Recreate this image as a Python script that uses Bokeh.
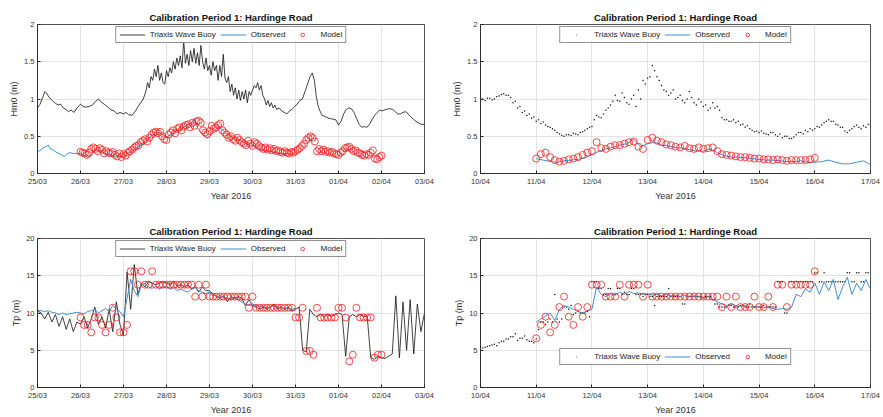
import pandas as pd
from bokeh.plotting import figure
from bokeh.layouts import column, row
from bokeh.models import (Range1d, DatetimeTickFormatter, DaysTicker, FixedTicker,
                          Legend, LegendItem)
from bokeh.embed import file_html
from bokeh.resources import INLINE

TITLE = "Calibration Period 1: Hardinge Road"
XLABEL = "Year 2016"
START_A, END_A = "2016-03-25", "2016-04-03"
START_B, END_B = "2016-04-10", "2016-04-17"
HM0_TICKS = [0, 0.5, 1, 1.5, 2]
HM0_TICK_LABELS = ["0", "0.5", "1", "1.5", "2"]
TP_TICKS = [0, 5, 10, 15, 20]

# ---------- Period A (25/03 - 03/04), Hm0 ----------
# (day offset from 25/03, value)
hm0_a_buoy = [
    (0.00, 0.88), (0.06, 0.93), (0.12, 1.02), (0.17, 1.10), (0.21, 1.08), (0.25, 1.04), (0.30, 1.00),
    (0.36, 0.97), (0.42, 0.94), (0.48, 0.92), (0.54, 0.93), (0.60, 0.88), (0.66, 0.86), (0.72, 0.83),
    (0.78, 0.85), (0.85, 0.82), (0.92, 0.88), (1.00, 0.93), (1.06, 0.90), (1.12, 0.89), (1.20, 0.90),
    (1.28, 0.92), (1.35, 0.97), (1.42, 1.00), (1.48, 0.96), (1.55, 0.93), (1.62, 0.90), (1.70, 0.86),
    (1.78, 0.84), (1.85, 0.80), (1.92, 0.82), (2.00, 0.80), (2.06, 0.82), (2.12, 0.79), (2.20, 0.78),
    (2.28, 0.84), (2.34, 0.90), (2.40, 0.95), (2.46, 1.00), (2.52, 1.10), (2.56, 1.22), (2.60, 1.15),
    (2.64, 1.30), (2.68, 1.25), (2.72, 1.40), (2.76, 1.30), (2.80, 1.45), (2.84, 1.25), (2.88, 1.35),
    (2.92, 1.22), (2.96, 1.20), (3.00, 1.38), (3.04, 1.30), (3.08, 1.42), (3.12, 1.35), (3.16, 1.50),
    (3.20, 1.40), (3.24, 1.55), (3.28, 1.45), (3.32, 1.58), (3.36, 1.42), (3.40, 1.78), (3.44, 1.48),
    (3.48, 1.60), (3.52, 1.45), (3.56, 1.65), (3.60, 1.50), (3.64, 1.68), (3.68, 1.48), (3.72, 1.62),
    (3.76, 1.45), (3.80, 1.72), (3.84, 1.50), (3.88, 1.40), (3.92, 1.55), (3.96, 1.38), (4.00, 1.45),
    (4.04, 1.32), (4.08, 1.50), (4.12, 1.38), (4.16, 1.45), (4.20, 1.25), (4.24, 1.45), (4.28, 1.30),
    (4.32, 1.60), (4.36, 1.28), (4.40, 1.22), (4.44, 1.30), (4.48, 1.10), (4.52, 1.20), (4.56, 1.05),
    (4.60, 1.15), (4.64, 1.00), (4.68, 1.12), (4.72, 0.98), (4.76, 1.10), (4.80, 1.00), (4.84, 1.12),
    (4.88, 0.95), (4.92, 1.10), (4.96, 1.05), (5.00, 1.12), (5.04, 1.18), (5.08, 1.15), (5.12, 1.22),
    (5.16, 1.12), (5.20, 1.18), (5.24, 1.05), (5.28, 1.00), (5.32, 0.92), (5.36, 0.98), (5.40, 0.90),
    (5.44, 0.95), (5.48, 0.88), (5.52, 0.92), (5.56, 0.86), (5.62, 0.88), (5.68, 0.84), (5.74, 0.82),
    (5.80, 0.80), (5.86, 0.84), (5.92, 0.86), (5.98, 0.90), (6.04, 0.93), (6.10, 0.98), (6.16, 1.00),
    (6.22, 1.10), (6.28, 1.20), (6.34, 1.30), (6.39, 1.35), (6.44, 1.25), (6.48, 1.05), (6.52, 0.92),
    (6.56, 0.85), (6.62, 0.78), (6.70, 0.76), (6.78, 0.74), (6.86, 0.73), (6.94, 0.72), (7.00, 0.65),
    (7.06, 0.70), (7.12, 0.80), (7.18, 0.86), (7.24, 0.88), (7.30, 0.87), (7.36, 0.82), (7.42, 0.74),
    (7.48, 0.66), (7.54, 0.62), (7.60, 0.63), (7.66, 0.62), (7.72, 0.66), (7.78, 0.72), (7.84, 0.78),
    (7.90, 0.82), (7.96, 0.85), (8.02, 0.84), (8.10, 0.86), (8.18, 0.87), (8.26, 0.86), (8.32, 0.83),
    (8.38, 0.80), (8.44, 0.80), (8.50, 0.82), (8.56, 0.83), (8.62, 0.80), (8.68, 0.76), (8.74, 0.73),
    (8.80, 0.70), (8.86, 0.68), (8.92, 0.66), (9.00, 0.66),
]
hm0_a_obs = [
    (0.00, 0.31), (0.05, 0.30), (0.10, 0.33), (0.15, 0.35), (0.20, 0.36), (0.25, 0.38), (0.30, 0.33),
    (0.35, 0.32), (0.40, 0.30), (0.45, 0.28), (0.50, 0.27), (0.55, 0.25), (0.62, 0.23), (0.68, 0.26),
    (0.75, 0.28), (0.82, 0.27), (0.90, 0.27), (1.00, 0.27), (1.08, 0.25), (1.16, 0.22), (1.24, 0.24),
    (1.32, 0.30), (1.40, 0.32), (1.48, 0.30), (1.56, 0.27), (1.64, 0.26), (1.72, 0.24), (1.80, 0.23),
    (1.88, 0.24), (1.96, 0.22), (2.04, 0.25), (2.12, 0.28), (2.20, 0.30), (2.28, 0.33), (2.36, 0.37),
    (2.44, 0.40), (2.52, 0.44), (2.60, 0.47), (2.68, 0.52), (2.76, 0.55), (2.84, 0.55), (2.92, 0.52),
    (3.00, 0.48), (3.08, 0.52), (3.16, 0.55), (3.24, 0.58), (3.32, 0.60), (3.40, 0.62), (3.48, 0.65),
    (3.56, 0.67), (3.64, 0.73), (3.72, 0.62), (3.80, 0.55), (3.88, 0.50), (3.96, 0.47), (4.04, 0.52),
    (4.12, 0.58), (4.20, 0.62), (4.28, 0.60), (4.36, 0.55), (4.44, 0.52), (4.52, 0.48), (4.60, 0.46),
    (4.68, 0.45), (4.76, 0.43), (4.84, 0.40), (4.92, 0.38), (5.00, 0.38), (5.08, 0.35), (5.16, 0.33),
    (5.24, 0.32), (5.32, 0.30), (5.40, 0.30), (5.48, 0.28), (5.56, 0.28), (5.64, 0.27), (5.72, 0.26),
    (5.80, 0.27), (5.88, 0.26), (5.96, 0.27),
]
# model every 72 min from 26/03 00:00
hm0_a_model = [
    0.29, 0.28, 0.27, 0.25, 0.28, 0.33, 0.35, 0.33, 0.30, 0.34,
    0.32, 0.27, 0.30, 0.28, 0.27, 0.29, 0.25, 0.23, 0.27, 0.22,
    0.26, 0.24, 0.28, 0.30, 0.32, 0.35, 0.37, 0.38, 0.42, 0.44,
    0.46, 0.43, 0.48, 0.52, 0.55, 0.56, 0.54, 0.56, 0.50, 0.46,
    0.45, 0.52, 0.55, 0.58, 0.54, 0.60, 0.62, 0.58, 0.63, 0.65,
    0.66, 0.62, 0.68, 0.64, 0.70, 0.71, 0.68, 0.58, 0.55, 0.53,
    0.57, 0.64, 0.60, 0.62, 0.65, 0.67, 0.58, 0.55, 0.52, 0.48,
    0.50, 0.46, 0.44, 0.48, 0.45, 0.42, 0.40, 0.38, 0.44, 0.40,
    0.37, 0.42, 0.40, 0.37, 0.35, 0.33, 0.35, 0.32, 0.34, 0.31,
    0.33, 0.30, 0.31, 0.29, 0.28, 0.30, 0.28, 0.27, 0.29, 0.28,
    0.30, 0.32, 0.34, 0.37, 0.40, 0.45, 0.48, 0.50, 0.48, 0.43,
    0.30, 0.33, 0.30, 0.32, 0.29, 0.30, 0.28, 0.29, 0.27, 0.26,
    0.25, 0.28, 0.30, 0.34, 0.35, 0.36, 0.33, 0.30, 0.31, 0.28,
    0.27, 0.25, 0.24, 0.26, 0.25, 0.28, 0.31, 0.20, 0.19, 0.22,
    0.24,
]

# ---------- Period A, Tp (2-hourly) ----------
tp_a_buoy = [  # from 25/03 00:00
    10.3, 10.0, 9.2, 10.1, 8.8, 9.8, 8.2, 9.5, 7.8, 9.2, 7.5, 8.8,
    8.5, 9.5, 8.0, 9.2, 10.8, 8.5, 9.5, 8.0, 10.5, 7.5, 11.5, 8.5,
    7.0, 15.5, 10.5, 16.5, 12.5, 14.0, 13.5, 14.2, 14.0, 13.8, 14.0, 14.2,
    14.0, 13.8, 14.2, 13.6, 13.8, 13.5, 13.8, 13.2, 13.5, 12.8, 13.5, 13.0,
    13.0, 12.5, 12.2, 12.0, 12.3, 11.5, 12.2, 12.0, 12.2, 12.0, 11.0, 11.8,
    11.0, 10.8, 10.5, 10.8, 10.5, 10.8, 11.2, 10.5, 10.8, 10.5, 10.8, 10.3,
    10.5, 10.8, 5.0, 4.8, 10.5, 9.8, 9.5, 9.8, 9.5, 9.8, 9.5, 9.8,
    10.0, 9.8, 4.2, 9.5, 9.8, 9.5, 9.8, 9.5, 9.6, 4.0, 3.8, 4.2,
    4.0, 3.9, 4.2, 4.5, 12.3, 4.0, 11.5, 5.0, 11.8, 4.5, 11.2, 7.5,
    10.0,
]
tp_a_obs = [  # from 25/03 00:00
    10.4, 10.3, 10.2, 10.3, 10.1, 10.0, 9.8, 10.0, 9.8, 9.9, 10.0, 10.1,
    10.0, 9.9, 10.2, 10.3, 10.5, 10.0, 10.3, 10.6, 10.2, 11.0, 10.5, 10.2,
    9.5, 12.0, 14.5, 13.0, 12.2, 13.8, 14.0, 13.5, 13.3, 13.6, 13.2, 13.5,
    13.5, 13.2, 13.4, 13.0, 13.2, 13.0, 12.8, 13.2, 13.4, 13.0, 12.8, 12.6,
    12.8, 12.5, 12.2, 12.3, 12.2, 12.0, 11.8, 12.0, 11.8, 11.5, 11.2, 11.0,
    11.2, 11.0, 10.8, 10.9, 10.7, 10.8, 11.0, 10.8, 10.7, 10.6, 10.6, 10.5,
    10.6,
]
tp_a_model = [  # from 26/03 00:00
    9.4, 8.4, 8.4, 7.4, 9.4, 9.4, 8.4, 7.4, 8.4, 10.7, 9.4, 7.4,
    7.4, 8.4, 15.6, 15.6, 13.8, 15.6, 13.8, 13.8, 15.6, 13.8, 13.8, 13.8,
    13.8, 13.8, 13.8, 13.8, 13.8, 13.8, 13.8, 13.8, 12.2, 13.8, 12.2, 13.8,
    12.2, 12.2, 12.2, 12.2, 12.2, 12.2, 12.2, 12.2, 12.2, 12.2, 12.2, 10.7,
    12.2, 10.7, 10.7, 10.7, 10.7, 10.7, 10.7, 10.7, 10.7, 10.7, 10.7, 10.7,
    9.4, 9.4, 10.7, 4.9, 4.9, 4.4, 10.7, 9.4, 9.4, 9.4, 9.4, 9.4,
    10.7, 10.7, 9.4, 3.5, 4.4, 10.7, 9.4, 9.4, 9.4, 9.4, 4.0, 4.4,
    4.4,
]

# ---------- Period B (10/04 - 17/04), Hm0 ----------
hm0_b_buoy = [  # hourly from 10/04 00:00
    1.02, 1.00, 0.98, 1.01, 1.01, 0.99, 1.00, 1.03, 1.04, 1.06, 1.07, 1.05,
    1.05, 1.02, 0.95, 0.97, 0.88, 0.90, 0.82, 0.84, 0.78, 0.80, 0.74, 0.76,
    0.70, 0.72, 0.67, 0.69, 0.65, 0.63, 0.62, 0.60, 0.58, 0.55, 0.53, 0.51,
    0.50, 0.52, 0.52, 0.51, 0.54, 0.53, 0.52, 0.55, 0.56, 0.58, 0.60, 0.62,
    0.63, 0.72, 0.78, 0.76, 0.75, 0.80, 0.85, 0.88, 0.92, 0.97, 1.05, 0.98,
    0.97, 1.08, 1.02, 0.95, 0.93, 1.00, 1.05, 0.90, 1.12, 1.00, 1.25, 1.20,
    1.28, 1.30, 1.45, 1.38, 1.30, 1.25, 1.18, 1.12, 1.10, 1.05, 1.08, 1.12,
    1.00, 1.02, 1.05, 0.98, 0.95, 1.00, 1.10, 1.02, 0.95, 0.92, 1.00, 0.96,
    0.90, 0.92, 0.85, 0.88, 0.95, 0.88, 0.90, 0.85, 0.75, 0.72, 0.72, 0.70,
    0.70, 0.72, 0.68, 0.70, 0.65, 0.66, 0.62, 0.64, 0.60, 0.58, 0.56, 0.57,
    0.55, 0.57, 0.54, 0.53, 0.52, 0.55, 0.55, 0.52, 0.50, 0.53, 0.48, 0.50,
    0.50, 0.47, 0.47, 0.49, 0.52, 0.55, 0.55, 0.53, 0.58, 0.56, 0.60, 0.58,
    0.60, 0.63, 0.62, 0.65, 0.68, 0.70, 0.72, 0.70, 0.70, 0.66, 0.65, 0.62,
    0.62, 0.57, 0.55, 0.58, 0.60, 0.63, 0.65, 0.62, 0.60, 0.64, 0.62, 0.66,
    0.65,
]
hm0_b_obs = [  # 3-hourly from 11/04 00:00
    0.20, 0.18, 0.16, 0.15, 0.17, 0.18, 0.19, 0.21,
    0.25, 0.30, 0.33, 0.35, 0.38, 0.40, 0.46, 0.36,
    0.40, 0.42, 0.38, 0.37, 0.35, 0.34, 0.32, 0.30,
    0.30, 0.33, 0.28, 0.24, 0.22, 0.22, 0.21, 0.20,
    0.19, 0.18, 0.18, 0.17, 0.16, 0.16, 0.17, 0.15,
    0.15, 0.16, 0.18, 0.15, 0.13, 0.13, 0.15, 0.17,
    0.12,
]
hm0_b_model = [  # 2-hourly from 11/04 00:00
    0.20, 0.26, 0.28, 0.22, 0.18, 0.16, 0.17, 0.19, 0.20, 0.22, 0.25, 0.28,
    0.30, 0.42, 0.34, 0.33, 0.36, 0.38, 0.38, 0.40, 0.42, 0.43, 0.36, 0.33,
    0.45, 0.48, 0.44, 0.42, 0.39, 0.38, 0.36, 0.35, 0.37, 0.34, 0.33, 0.35,
    0.33, 0.34, 0.35, 0.30, 0.26, 0.25, 0.24, 0.23, 0.22, 0.22, 0.21, 0.20,
    0.20, 0.19, 0.19, 0.18, 0.19, 0.18, 0.17, 0.18, 0.18, 0.18, 0.18, 0.19,
    0.21,
]

# ---------- Period B, Tp ----------
tp_b_buoy = [  # hourly from 10/04 00:00
    5.0, 5.3, 5.4, 5.5, 5.6, 5.7, 5.8, 5.6, 6.0, 6.2, 6.2, 6.5,
    6.5, 6.8, 6.8, 7.2, 6.3, 6.6, 6.6, 6.9, 6.4, 6.2, 6.2, 6.0,
    6.5, 7.8, 8.8, 8.8, 8.5, 8.8, 9.2, 8.8, 12.5, 9.2, 8.8, 9.2,
    10.8, 10.8, 10.5, 11.0, 9.8, 10.0, 10.2, 10.0, 10.0, 10.0, 10.2, 9.5,
    14.2, 14.2, 14.2, 13.3, 13.3, 12.5, 12.5, 13.3, 13.3, 12.5, 12.5, 13.3,
    13.3, 12.5, 12.8, 12.5, 12.5, 13.3, 13.3, 12.5, 12.5, 12.5, 12.2, 12.5,
    12.5, 12.2, 12.2, 11.0, 12.2, 12.2, 12.2, 12.2, 12.2, 13.3, 12.2, 12.2,
    12.2, 12.2, 12.2, 11.2, 11.2, 12.2, 12.2, 12.2, 12.2, 12.2, 12.2, 12.2,
    12.0, 12.2, 12.2, 12.2, 11.8, 11.2, 11.2, 10.8, 10.8, 10.8, 10.8, 11.0,
    11.0, 10.8, 10.8, 10.8, 11.0, 11.0, 10.8, 10.8, 11.2, 10.8, 10.8, 10.8,
    10.8, 10.8, 11.0, 10.8, 10.8, 10.8, 10.8, 10.8, 14.2, 14.2, 14.2, 10.0,
    10.0, 14.2, 14.2, 14.2, 14.2, 14.2, 14.2, 14.2, 14.2, 14.2, 14.2, 14.2,
    15.4, 15.4, 14.2, 14.2, 15.4, 14.2, 14.2, 14.2, 14.2, 14.2, 14.2, 14.2,
    14.2, 14.2, 15.4, 15.4, 14.2, 14.2, 15.4, 15.4, 14.2, 14.2, 15.4, 15.4,
    14.2,
]
tp_b_obs = [  # 2-hourly from 11/04 00:00
    8.8, 9.2, 9.6, 10.0, 9.0, 10.5, 11.0, 10.8, 10.5, 10.2, 10.0, 10.3,
    10.5, 13.5, 12.5, 12.2, 12.6, 12.4, 12.8, 12.5, 12.9, 12.6, 12.7, 12.5,
    12.6, 12.4, 12.5, 12.3, 12.5, 12.3, 12.4, 12.2, 12.4, 12.2, 12.3, 12.2,
    12.0, 12.2, 11.8, 11.5, 11.2, 11.0, 11.2, 11.0, 10.9, 11.0, 10.8, 10.9,
    10.8, 10.7, 10.8, 10.6, 10.5, 10.6, 10.5, 10.8, 12.5, 12.2, 13.2, 12.8,
    14.0, 12.5, 14.2, 13.0, 14.5, 11.8, 13.5, 14.8, 12.5, 14.0, 13.0, 14.5,
    13.2,
]
tp_b_model = [  # 2-hourly from 11/04 00:00
    6.6, 8.4, 9.5, 7.4, 8.4, 10.8, 12.2, 9.5, 8.4, 10.8, 9.5, 10.8,
    13.8, 13.8, 13.8, 12.2, 12.2, 12.2, 13.8, 12.2, 13.8, 13.8, 13.8, 12.2,
    13.8, 12.2, 12.2, 12.2, 12.2, 12.2, 12.2, 12.2, 12.2, 12.2, 12.2, 12.2,
    12.2, 12.2, 12.2, 12.2, 10.8, 12.2, 10.8, 12.2, 10.8, 10.8, 10.8, 12.2,
    10.8, 10.8, 12.2, 10.8, 13.8, 13.8, 10.8, 13.8, 13.8, 13.8, 13.8, 13.8,
    15.6,
]

BLACK = "#111111"
BLUE = "#3d8fd6"
RED = "#ff1a1a"
FONT = "Liberation Sans"


def days(start, pairs):
    t0 = pd.Timestamp(start)
    return ([t0 + pd.Timedelta(days=d) for d, _ in pairs], [v for _, v in pairs])


def regular(start, vals, freq):
    return list(pd.date_range(pd.Timestamp(start), periods=len(vals), freq=freq)), vals


def panel(w, h, bl, br, bt, bb, x0, x1, ymax, yticks, ylabel, legloc, legmargin,
          buoy, buoy_dots, obs, model, ylabels=None):
    p = figure(width=w, height=h, output_backend="svg", toolbar_location=None,
               x_axis_type="datetime",
               x_range=Range1d(pd.Timestamp(x0), pd.Timestamp(x1)),
               y_range=Range1d(0, ymax),
               min_border_left=bl, min_border_right=br, min_border_top=bt, min_border_bottom=bb)
    p.title.text = TITLE
    p.title.align = "center"
    p.title.text_font = FONT
    p.title.text_font_size = "9.5px"
    p.title.text_font_style = "bold"
    p.title.text_color = "#111111"
    p.title.standoff = 3
    p.outline_line_color = "#262626"
    p.outline_line_width = 0.8
    p.background_fill_color = "white"

    p.xaxis.ticker = DaysTicker(days=list(range(1, 32)))
    p.xaxis.formatter = DatetimeTickFormatter(days="%d/%m", months="%d/%m", hours="%d/%m")
    p.yaxis.ticker = FixedTicker(ticks=yticks)
    if ylabels:
        p.yaxis.major_label_overrides = {t: s for t, s in zip(yticks, ylabels)}
    p.xaxis.axis_label = XLABEL
    p.yaxis.axis_label = ylabel
    for ax in (p.xaxis[0], p.yaxis[0]):
        ax.axis_line_color = "#262626"
        ax.axis_line_width = 0.8
        ax.major_tick_in = 3
        ax.major_tick_out = 0
        ax.minor_tick_in = 0
        ax.minor_tick_out = 0
        ax.major_tick_line_color = "#262626"
        ax.major_label_text_font = FONT
        ax.major_label_text_font_size = "7.5px"
        ax.major_label_text_color = "#333333"
        ax.major_label_standoff = 3
        ax.axis_label_text_font = FONT
        ax.axis_label_text_font_size = "9px"
        ax.axis_label_text_font_style = "normal"
        ax.axis_label_text_color = "#333333"
        ax.axis_label_standoff = 2
    p.grid.grid_line_color = "#dcdcdc"
    p.grid.grid_line_width = 0.8

    bx, by = buoy
    if buoy_dots:
        rb = p.scatter(bx, by, marker="dot", size=6, line_color=BLACK, fill_color=BLACK)
    else:
        rb = p.line(bx, by, line_color=BLACK, line_width=0.8)
    ox, oy = obs
    ro = p.line(ox, oy, line_color=BLUE, line_width=1.0)
    mx, my = model
    rm = p.scatter(mx, my, marker="circle", size=7, fill_color=None,
                   line_color=RED, line_width=0.8)

    leg = Legend(items=[LegendItem(label="Triaxis Wave Buoy", renderers=[rb]),
                        LegendItem(label="Observed", renderers=[ro]),
                        LegendItem(label="Model", renderers=[rm])],
                 orientation="horizontal", location=legloc, margin=legmargin,
                 padding=3, spacing=4, glyph_width=26, glyph_height=9,
                 label_standoff=5, label_height=9,
                 label_text_font=FONT, label_text_font_size="8px", label_text_color="#222222",
                 border_line_color="#262626", border_line_width=1,
                 background_fill_alpha=1.0)
    p.add_layout(leg, "center")
    return p


p1 = panel(440, 203, 37, 16, 23, 27, START_A, END_A, 2, HM0_TICKS, "Hm0 (m)", "top_center", 2,
           days(START_A, hm0_a_buoy), False, days(START_A, hm0_a_obs),
           regular("2016-03-26", hm0_a_model, "72min"), HM0_TICK_LABELS)
p2 = panel(443, 203, 40, 13, 24, 25, START_B, END_B, 2, HM0_TICKS, "Hm0 (m)", "top_center", 2,
           regular(START_B, hm0_b_buoy, "1h"), True, regular("2016-04-11", hm0_b_obs, "3h"),
           regular("2016-04-11", hm0_b_model, "2h"), HM0_TICK_LABELS)
p3 = panel(440, 214, 37, 16, 31, 29, START_A, END_A, 20, TP_TICKS, "Tp (m)", "top_center", 2,
           regular(START_A, tp_a_buoy, "2h"), False, regular(START_A, tp_a_obs, "2h"),
           regular("2016-03-26", tp_a_model, "2h"))
p4 = panel(443, 214, 40, 13, 35, 25, START_B, END_B, 20, TP_TICKS, "Tp (m)", "bottom_center", 22,
           regular(START_B, tp_b_buoy, "1h"), True, regular("2016-04-11", tp_b_obs, "2h"),
           regular("2016-04-11", tp_b_model, "2h"))

layout = column(row(p1, p2, spacing=0), row(p3, p4, spacing=0), spacing=0)
open("out.html", "w").write(file_html(layout, INLINE))
